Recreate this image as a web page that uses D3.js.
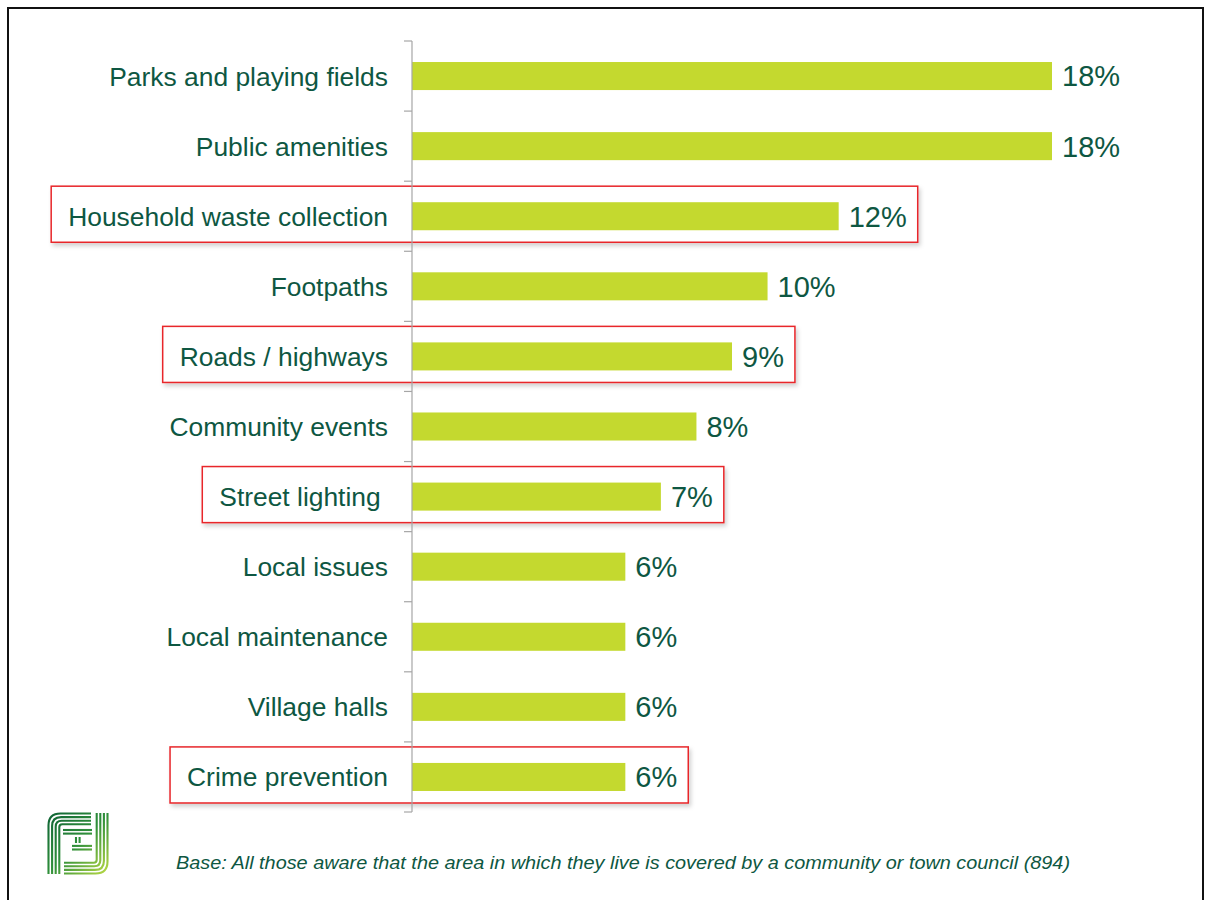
<!DOCTYPE html>
<html>
<head>
<meta charset="utf-8">
<script src="https://cdn.jsdelivr.net/npm/d3@7"></script>
<style>
  html, body { margin: 0; padding: 0; background: #fff; }
  svg { display: block; }
  text { font-family: "Liberation Sans", Arial, sans-serif; }
</style>
</head>
<body>
<svg id="chart" width="1210" height="900"></svg>
<script>
// Services mentioned (percent of respondents)
const categories = [
  "Parks and playing fields",
  "Public amenities",
  "Household waste collection",
  "Footpaths",
  "Roads / highways",
  "Community events",
  "Street lighting\u00a0",
  "Local issues",
  "Local maintenance",
  "Village halls",
  "Crime prevention"
];
const values = [18, 18, 12, 10, 9, 8, 7, 6, 6, 6, 6];
const highlighted = ["Household waste collection", "Roads / highways", "Street lighting\u00a0", "Crime prevention"];
const footnote = "Base: All those aware that the area in which they live is covered by a community or town council (894)";

const data = categories.map((c, i) => ({ cat: c, val: values[i] }));

const svg = d3.select("#chart");
const textColor = "#0e5742";
const barColor = "#c4d92f";

// Frame around the slide
svg.append("path")
  .attr("d", "M8,900 V8 H1203 V900")
  .attr("fill", "none")
  .attr("stroke", "#111")
  .attr("stroke-width", 2);

const axisX = 412;
const x = d3.scaleLinear().domain([0, d3.max(values)]).range([axisX, 1052]);
const y = d3.scaleBand().domain(categories).range([41, 812]).padding(0);
const barH = y.bandwidth() * 0.4;

// Shadow for the call-out boxes
const defs = svg.append("defs");
const f = defs.append("filter").attr("id", "shadow")
  .attr("x", "-5%").attr("y", "-20%").attr("width", "110%").attr("height", "150%");
f.append("feDropShadow").attr("dx", 2).attr("dy", 3).attr("stdDeviation", 2)
  .attr("flood-color", "#000").attr("flood-opacity", 0.18);

const boxLayer = svg.append("g");

// Bars
svg.append("g").selectAll("rect").data(data).join("rect")
  .attr("x", x(0))
  .attr("y", d => y(d.cat) + (y.bandwidth() - barH) / 2)
  .attr("width", d => x(d.val) - x(0))
  .attr("height", barH)
  .attr("fill", barColor);

// Axis line with ticks at band boundaries
const axis = svg.append("g").attr("stroke", "#a6a6a6").attr("stroke-width", 1.2);
axis.append("line").attr("x1", axisX).attr("x2", axisX)
  .attr("y1", y.range()[0]).attr("y2", y.range()[1]);
d3.range(categories.length + 1).forEach(i => {
  const yy = y.range()[0] + i * y.step();
  axis.append("line").attr("x1", axisX - 8).attr("x2", axisX).attr("y1", yy).attr("y2", yy);
});

// Category labels
const catLabels = svg.append("g").selectAll("text").data(data).join("text")
  .attr("x", axisX - 24)
  .attr("y", d => y(d.cat) + y.bandwidth() / 2)
  .attr("dy", "0.36em")
  .attr("text-anchor", "end")
  .attr("font-size", 26.4)
  .attr("fill", textColor)
  .text(d => d.cat);

// Value labels
const valLabels = svg.append("g").selectAll("text").data(data).join("text")
  .attr("x", d => x(d.val) + 10)
  .attr("y", d => y(d.cat) + y.bandwidth() / 2)
  .attr("dy", "0.36em")
  .attr("font-size", 29)
  .attr("fill", textColor)
  .text(d => d.val + "%");

// Red call-out boxes around highlighted rows
const catNodes = catLabels.nodes();
const valNodes = valLabels.nodes();
data.forEach((d, i) => {
  if (!highlighted.includes(d.cat)) return;
  const b1 = catNodes[i].getBBox();
  const b2 = valNodes[i].getBBox();
  const left = b1.x - 17;
  const right = b2.x + b2.width + 11;
  const h = y.bandwidth() * 0.8;
  const top = y(d.cat) + y.bandwidth() / 2 - h / 2 - 2;
  boxLayer.append("rect")
    .attr("x", left).attr("y", top)
    .attr("width", right - left).attr("height", h)
    .attr("fill", "#fff")
    .attr("stroke", "#e8262a")
    .attr("stroke-width", 1.5)
    .attr("filter", "url(#shadow)");
});

// Footnote
svg.append("text")
  .attr("x", 176).attr("y", 869)
  .attr("font-size", 18.5)
  .attr("font-style", "italic")
  .attr("fill", textColor)
  .attr("textLength", 894)
  .attr("lengthAdjust", "spacingAndGlyphs")
  .text(footnote);

// Logo: striped monogram
const grad = defs.append("linearGradient").attr("id", "logoGrad")
  .attr("gradientUnits", "userSpaceOnUse")
  .attr("x1", 48).attr("y1", 813).attr("x2", 108).attr("y2", 874);
grad.append("stop").attr("offset", "0%").attr("stop-color", "#0f6436");
grad.append("stop").attr("offset", "50%").attr("stop-color", "#2f8f3a");
grad.append("stop").attr("offset", "100%").attr("stop-color", "#bada45");
const logo = svg.append("g").attr("fill", "none").attr("stroke", "url(#logoGrad)")
  .attr("stroke-width", 2.1).attr("stroke-linecap", "butt");
const gap = 3.6;
d3.range(4).forEach(i => {
  const o = i * gap;
  const x0 = 48.5 + o, y0 = 813.5 + o, r = Math.max(1.5, 12 - i * 3);
  logo.append("path").attr("d", `M${x0},874 V${y0 + r} Q${x0},${y0} ${x0 + r},${y0} H91`);
  const x1 = 107.5 - o, y1 = 873.5 - o;
  logo.append("path").attr("d", `M${x1},813 V${y1 - r} Q${x1},${y1} ${x1 - r},${y1} H64`);
});
// inner "I" shape between the two letters
d3.range(2).forEach(i => {
  const o = i * gap;
  logo.append("path").attr("d", `M63,${830 + o} H${92 - o * 0}`);
  logo.append("path").attr("d", `M${72},${849.5 - o} H92`);
  logo.append("path").attr("d", `M${76 + o},${837} V${843}`);
});
</script>
</body>
</html>
